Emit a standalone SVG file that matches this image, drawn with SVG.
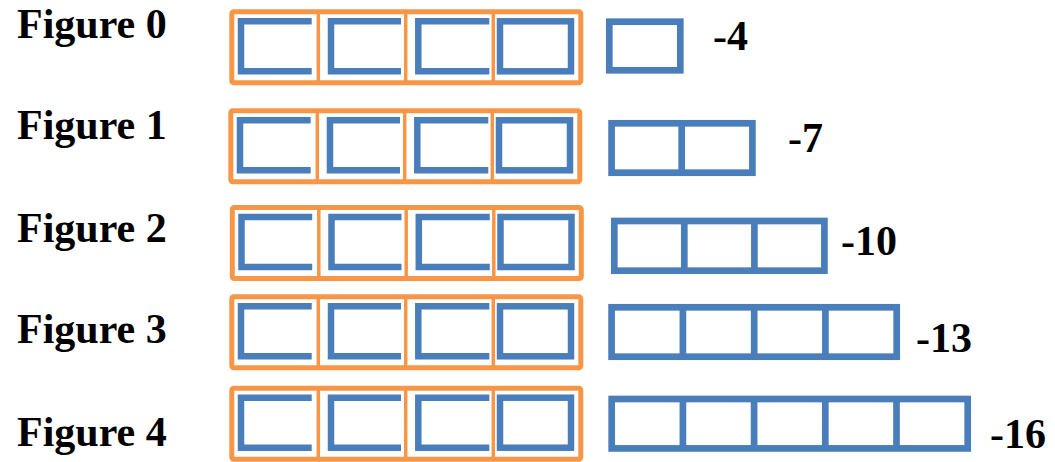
<svg xmlns="http://www.w3.org/2000/svg" width="1055" height="462" viewBox="0 0 1055 462">
<style>
.frame{fill:none;stroke:#f79646;stroke-width:5}
.div{stroke:#f79646;stroke-width:3.5}
.cup{fill:none;stroke:#4a7ebb;stroke-width:6.5;stroke-linejoin:miter}
.box{fill:none;stroke:#4a7ebb;stroke-width:6.7}
.bdiv{stroke:#4a7ebb;stroke-width:6.7}
.lbl{font-family:"Liberation Serif","Times New Roman",serif;font-weight:bold;font-size:42px;fill:#000}
</style>
<rect width="1055" height="462" fill="#fff"/>
<defs>
<g id="tray">
<rect class="frame" x="231.8" y="2.5" width="349" height="71" rx="2"/>
<line class="div" x1="318.3" y1="2.5" x2="318.3" y2="73.5"/>
<line class="div" x1="405.7" y1="2.5" x2="405.7" y2="73.5"/>
<line class="div" x1="493.3" y1="2.5" x2="493.3" y2="73.5"/>
<path class="cup" d="M311.7,12 H241 V62 H311.7"/>
<path class="cup" d="M401,12 H331 V62 H401"/>
<path class="cup" d="M489.3,12 H418.3 V62 H489.3"/>
<rect class="cup" x="500" y="12" width="71" height="50"/>
</g>
</defs>
<g id="figure0">
<text class="lbl" x="17" y="38">Figure 0</text>
<use href="#tray" transform="translate(0,9.3)"/>
<rect class="box" x="609.3" y="21.7" width="71" height="48.6"/>
<text class="lbl" x="713" y="50">-4</text>
</g>
<g id="figure1">
<text class="lbl" x="17" y="139">Figure 1</text>
<use href="#tray" transform="translate(-1,108.3)"/>
<rect class="box" x="611.6" y="123.3" width="140.8" height="49.4"/>
<line class="bdiv" x1="681.7" y1="123.3" x2="681.7" y2="172.7"/>
<text class="lbl" x="788" y="152">-7</text>
</g>
<g id="figure2">
<text class="lbl" x="17" y="242">Figure 2</text>
<use href="#tray" transform="translate(0.5,205)"/>
<rect class="box" x="614.3" y="221" width="210.1" height="49.7"/>
<line class="bdiv" x1="684.3" y1="221" x2="684.3" y2="270.7"/>
<line class="bdiv" x1="754.4" y1="221" x2="754.4" y2="270.7"/>
<text class="lbl" x="841" y="255">-10</text>
</g>
<g id="figure3">
<text class="lbl" x="17" y="343">Figure 3</text>
<use href="#tray" transform="translate(0,294.3)"/>
<rect class="box" x="611.6" y="307.3" width="285.1" height="49.4"/>
<line class="bdiv" x1="682.9" y1="307.3" x2="682.9" y2="356.7"/>
<line class="bdiv" x1="754.2" y1="307.3" x2="754.2" y2="356.7"/>
<line class="bdiv" x1="825.4" y1="307.3" x2="825.4" y2="356.7"/>
<text class="lbl" x="916" y="352">-13</text>
</g>
<g id="figure4">
<text class="lbl" x="17" y="446">Figure 4</text>
<use href="#tray" transform="translate(0,385.7)"/>
<rect class="box" x="611.7" y="399" width="356" height="49.4"/>
<line class="bdiv" x1="682.9" y1="399" x2="682.9" y2="448.4"/>
<line class="bdiv" x1="754.1" y1="399" x2="754.1" y2="448.4"/>
<line class="bdiv" x1="825.3" y1="399" x2="825.3" y2="448.4"/>
<line class="bdiv" x1="896.5" y1="399" x2="896.5" y2="448.4"/>
<text class="lbl" x="990" y="448">-16</text>
</g>
</svg>
